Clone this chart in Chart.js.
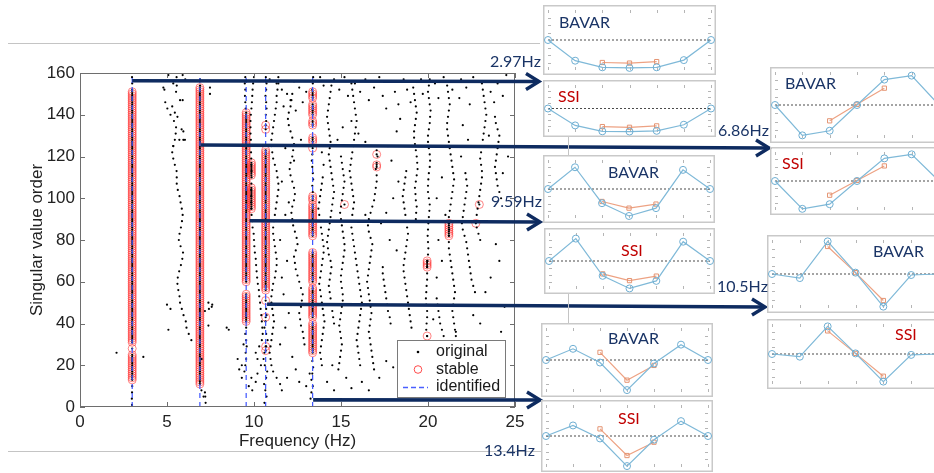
<!DOCTYPE html>
<html>
<head>
<meta charset="utf-8">
<script src="https://cdn.jsdelivr.net/npm/chart.js@4.4.0/dist/chart.umd.min.js"></script>
<style>
  html, body { margin: 0; padding: 0; background: #fff; }
  body { width: 934px; height: 473px; position: relative; overflow: hidden; }
  canvas { position: absolute; }
  .rule { position: absolute; background: #c4c4c4; }
  .tag { position: absolute; font: 16px Lato, "Noto Sans", sans-serif; line-height: 1; white-space: nowrap; transform: translateY(-50%); }
  .navy { color: #1a3466; }
  .red { color: #c00000; }
</style>
</head>
<body>
<canvas id="main" width="934" height="473" style="left:0;top:0"></canvas>

<div class="rule" style="left:8px;top:43px;width:532px;height:1px"></div>
<div class="rule" style="left:8px;top:451px;width:534px;height:1px"></div>
<div class="rule" style="left:568px;top:137px;width:1px;height:18px"></div>
<div class="rule" style="left:568px;top:294px;width:1px;height:29px"></div>

<canvas id="m297b" width="173" height="70" style="left:543px;top:5px"></canvas>
<canvas id="m297s" width="173" height="57" style="left:543px;top:80px"></canvas>
<canvas id="m959b" width="172" height="68" style="left:543px;top:155px"></canvas>
<canvas id="m959s" width="171" height="66" style="left:544px;top:228px"></canvas>
<canvas id="m134b" width="172" height="74" style="left:541px;top:323px"></canvas>
<canvas id="m134s" width="172" height="72" style="left:541px;top:400px"></canvas>
<canvas id="m686b" width="174" height="76" style="left:770px;top:67px"></canvas>
<canvas id="m686s" width="174" height="68" style="left:770px;top:147px"></canvas>
<canvas id="m105b" width="177" height="78" style="left:767px;top:235px"></canvas>
<canvas id="m105s" width="177" height="70" style="left:767px;top:319px"></canvas>

<div class="tag navy" style="left:490px;top:61px">2.97Hz</div>
<div class="tag navy" style="left:718px;top:130px">6.86Hz</div>
<div class="tag navy" style="left:491px;top:201px">9.59Hz</div>
<div class="tag navy" style="left:717px;top:286px">10.5Hz</div>
<div class="tag navy" style="left:484px;top:450px">13.4Hz</div>

<div class="tag navy" style="left:559px;top:22px">BAVAR</div>
<div class="tag red" style="left:558px;top:96px">SSI</div>
<div class="tag navy" style="left:608px;top:172px">BAVAR</div>
<div class="tag red" style="left:621px;top:250px">SSI</div>
<div class="tag navy" style="left:608px;top:338px">BAVAR</div>
<div class="tag red" style="left:618px;top:418px">SSI</div>
<div class="tag navy" style="left:785px;top:83px">BAVAR</div>
<div class="tag red" style="left:782px;top:163px">SSI</div>
<div class="tag navy" style="left:873px;top:251px">BAVAR</div>
<div class="tag red" style="left:895px;top:334px">SSI</div>

<script>
// stabilization diagram
const freqTicks = [0, 5, 10, 15, 20, 25];
const orderTicks = [0, 20, 40, 60, 80, 100, 120, 140, 160];
const identifiedHz = [3.0, 6.89, 9.55, 10.67, 13.37];

// stable poles: [frequency Hz, first order, last order]
const stableRuns = [
    [3.0, 13, 25], [3.0, 28, 28], [3.0, 31, 151],
    [6.89, 11, 153],
    [9.55, 41, 54], [9.55, 60, 141], [9.85, 95, 105], [9.85, 111, 117],
    [10.67, 27, 27], [10.67, 29, 29], [10.67, 43, 43], [10.67, 51, 51], [10.67, 56, 123], [10.67, 133, 133], [10.67, 135, 135],
    [13.37, 26, 40], [13.37, 43, 57], [13.37, 60, 74], [13.37, 82, 97], [13.37, 99, 101], [13.37, 124, 124],
    [13.37, 127, 129], [13.37, 135, 137], [13.37, 140, 145], [13.37, 148, 151],
    [15.2, 97, 97], [17.05, 115, 116], [17.05, 121, 121], [19.95, 34, 34], [19.95, 67, 70],
    [21.2, 82, 88], [22.75, 88, 88], [22.95, 97, 97]
];

// original poles along drifting traces: [first order, frequencies every ORDER_STEP orders]
const ORDER_STEP = 3;
const originalTrails = [
    [1, [2.99, 2.98, 2.99, 3.0]],
    [152, [3.0, 3.0, 2.99]],
    [2, [7.22, 7.1, 6.98]],
    [154, [6.9, 6.9]],
    [14, [9.3, 9.45, 9.5, 9.55, 9.52, 9.58, 9.55, 9.5, 9.55]],
    [143, [9.52, 9.5, 9.48, 9.5, 9.47, 9.5]],
    [2, [10.6, 10.72, 10.65, 10.58, 10.7, 10.76, 10.62, 10.55, 10.6, 10.7, 10.78, 10.7, 10.6, 10.66, 10.72, 10.7]],
    [137, [10.7, 10.68, 10.72, 10.7, 10.66, 10.7, 10.72, 10.68]],
    [4, [13.25, 13.3, 13.38, 13.3, 13.35, 13.4, 13.35]],
    [103, [13.38, 13.35, 13.4, 13.38, 13.35, 13.32, 13.35]],
    [152, [13.35, 13.38, 13.4]],
    [32, [6.40, 6.25, 6.12, 6.08, 5.95, 5.85, 5.75, 5.72, 5.65, 5.60, 5.62, 5.70, 5.80, 5.88, 5.92, 5.78, 5.68, 5.72, 5.80, 5.86,
          5.90, 5.85, 5.78, 5.72, 5.62, 5.56, 5.56, 5.55, 5.45, 5.36, 5.30, 5.36, 5.45, 5.50, 5.52, 5.40, 5.20, 5.02, 4.90]],
    [20, [10.4, 10.2, 10.1, 10.3, 10.45, 10.5, 10.48, 10.45, 10.42, 10.38, 10.35, 10.30, 10.28, 10.22, 10.18, 10.15, 10.12, 10.10,
          10.05, 10.02, 10.00, 9.98, 9.92, 9.90, 9.86, 9.85, 9.84, 9.84, 9.84, 9.85, 9.86, 9.86, 9.85, 9.84, 9.83, 9.82, 9.82,
          9.80, 9.80, 9.80, 9.82, 9.85, 9.88, 9.90, 9.92, 9.95, 10.0]],
    [8, [11.6, 11.5, 11.3, 11.1, 11.0, 10.95, 10.9, 10.95, 11.0, 11.05, 11.1, 11.15, 11.1, 11.05, 11.0, 11.0, 11.05, 11.1, 11.2,
         11.25, 11.3, 11.3, 11.25, 11.2, 11.15, 11.1, 11.1, 11.15, 11.2, 11.25, 11.3, 11.35, 11.4, 11.4, 11.35, 11.3, 11.2, 11.1,
         11.05, 11.0, 11.0, 11.05, 11.1, 11.15, 11.2, 11.25, 11.3, 11.3, 11.35, 11.4, 11.4]],
    [30, [12.9, 12.85, 12.8, 12.7, 12.65, 12.6, 12.7, 12.75, 12.8, 12.7, 12.6, 12.5, 12.4, 12.35, 12.3, 12.4, 12.5, 12.45, 12.35,
          12.25, 12.2, 12.15, 12.2, 12.3, 12.35, 12.3, 12.2, 12.1, 12.05, 12.1, 12.2, 12.25, 12.3, 12.2, 12.1, 12.0, 11.95, 12.0,
          12.1, 12.15, 12.2]],
    [20, [13.9, 13.85, 13.8, 13.85, 13.9, 13.95, 14.0, 14.05, 14.0, 13.95, 13.9, 13.85, 13.8, 13.75, 13.8, 13.85, 13.9, 13.95,
          14.0, 14.0, 13.95, 13.9, 13.85, 13.8, 13.75, 13.7, 13.75, 13.8, 13.85, 13.9, 13.95]],
    [40, [14.6, 14.55, 14.5, 14.45, 14.4, 14.35, 14.3, 14.35, 14.4, 14.45, 14.4, 14.3, 14.25, 14.2, 14.25, 14.3, 14.35, 14.4,
          14.45, 14.5, 14.55, 14.6, 14.55, 14.5, 14.45, 14.4, 14.35, 14.3, 14.35, 14.4, 14.35, 14.3, 14.25, 14.2, 14.25, 14.3,
          14.35, 14.4, 14.45]],
    [18, [14.85, 14.9, 14.95, 15.0, 15.05, 15.0, 14.95, 14.9, 14.95, 15.0, 15.05, 15.1, 15.1, 15.05, 15.0, 15.0, 15.05, 15.1,
          15.15, 15.2, 15.2, 15.15, 15.1, 15.05, 15.0, 14.95, 15.0, 15.05, 15.1, 15.15, 15.2, 15.15, 15.1, 15.05, 15.0]],
    [20, [16.1, 16.05, 16.0, 15.95, 15.9, 15.95, 16.0, 16.05, 16.1, 16.15, 16.2, 16.15, 16.1, 16.05, 16.0, 15.95, 15.9, 15.85,
          15.8, 15.75, 15.7, 15.65, 15.6, 15.6, 15.65, 15.7, 15.75, 15.7, 15.65, 15.6, 15.55, 15.5, 15.55, 15.6, 15.65, 15.7,
          15.75, 15.8, 15.85, 15.9, 15.85, 15.8, 15.75, 15.7, 15.65, 15.6]],
    [18, [16.9, 16.85, 16.8, 16.75, 16.7, 16.65, 16.6, 16.65, 16.7, 16.75, 16.7, 16.65, 16.6, 16.55, 16.5, 16.55, 16.6, 16.65,
          16.7, 16.75, 16.8, 16.7, 16.6, 16.55, 16.6, 16.7, 16.8, 16.9, 16.95, 17.0, 17.05, 17.05, 17.0, 17.05, 17.1, 17.05]],
    [40, [17.85, 17.8, 17.7, 17.65, 17.6, 17.55, 17.5, 17.45, 17.4, 17.4]],
    [38, [19.05, 19.0, 18.95, 18.9, 18.85, 18.8, 18.75, 18.7, 18.65, 18.6, 18.6, 18.65, 18.7, 18.75, 18.8, 18.85, 18.8, 18.75,
          18.7, 18.65, 18.6, 18.55, 18.6, 18.65, 18.7, 18.75]],
    [90, [19.3, 19.32, 19.35, 19.3, 19.28, 19.25, 19.3, 19.35, 19.4, 19.38, 19.35, 19.3, 19.25, 19.2, 19.2, 19.25, 19.3, 19.35,
          19.3, 19.25, 19.2, 19.15, 19.2]],
    [22, [20.1, 20.05, 20.0, 19.95, 19.95, 19.9, 19.92, 19.95, 19.95, 19.9, 19.88, 19.9, 19.92, 19.95, 19.95, 19.95, 19.97, 20.0,
          20.02, 20.0, 19.98, 20.0, 20.02, 20.05, 20.08, 20.1, 20.05, 20.0, 20.0, 20.02, 20.05, 20.1, 20.12, 20.1, 20.05, 20.0,
          20.0, 20.05, 20.1, 20.12, 20.15, 20.1, 20.05, 20.0, 20.05, 20.1]],
    [34, [20.9, 20.8, 20.7, 20.65, 20.6, 20.55, 20.5]],
    [28, [21.7, 21.65, 21.6, 21.55, 21.5, 21.45, 21.4, 21.45, 21.5, 21.55, 21.5, 21.45, 21.4, 21.35, 21.3, 21.25, 21.2, 21.2,
          21.2, 21.22, 21.2, 21.2, 21.25, 21.3, 21.35, 21.4, 21.45, 21.5, 21.45, 21.4, 21.35, 21.3, 21.25, 21.2, 21.15, 21.1,
          21.1, 21.15, 21.2, 21.25, 21.2, 21.15, 21.1]],
    [55, [22.7, 22.6, 22.5, 22.45, 22.4, 22.35, 22.3, 22.25, 22.2, 22.1, 22.0, 21.95, 22.0, 22.05, 22.1, 22.15, 22.2, 22.25,
          22.2, 22.15]],
    [80, [23.0, 22.9, 22.8, 22.75, 22.8, 22.85, 22.9, 22.95, 23.0, 23.05, 23.1, 23.1, 23.05, 23.0, 23.05, 23.1, 23.15, 23.2,
          23.25, 23.3, 23.35, 23.3, 23.25, 23.2, 23.15, 23.1]],
    [100, [24.2, 24.1, 24.0, 23.95, 23.9, 23.85, 23.9, 23.95, 24.0, 24.05, 24.1, 24.0, 23.9, 23.85]]
];

// isolated original poles: [frequency Hz, order]
const originalScatter = [
    [2.1, 26], [3.64, 24], [5.08, 37], [5.0, 49], [5.2, 47], [8.55, 37], [9.06, 23], [7.41, 47], [7.6, 49], [7.18, 46],
    [7.38, 50], [7.57, 48], [7.38, 39], [8.43, 38], [6.99, 23], [7.18, 7], [7.2, 5], [4.79, 153], [5.56, 154], [5.75, 147],
    [5.94, 132], [5.94, 128], [5.36, 125], [7.47, 153], [7.47, 150], [4.85, 152], [5.36, 155], [5.52, 151], [5.9, 147],
    [5.84, 133], [6.03, 128], [5.71, 128], [5.08, 159], [5.55, 158], [5.9, 159], [6.05, 157], [5.45, 141], [5.3, 144],
    [5.6, 139], [9.3, 20], [9.15, 18], [9.4, 30], [9.7, 10], [9.9, 8], [9.85, 14], [10.2, 16], [10.1, 12],
    [10.9, 157], [11.3, 155], [11.6, 152], [11.9, 150], [12.3, 156], [12.6, 153], [12.1, 147], [11.7, 144], [12.4, 142],
    [12.8, 146], [13.0, 151], [13.8, 158], [14.0, 154], [14.6, 157], [14.9, 152], [15.2, 158], [15.4, 149], [15.8, 155],
    [16.1, 151], [16.4, 157], [16.6, 147], [16.9, 153], [17.2, 158], [17.4, 149], [17.6, 143], [17.9, 156], [18.1, 151],
    [18.3, 145], [18.4, 138], [18.6, 157], [18.8, 152], [19.0, 146], [19.6, 157], [19.7, 150], [20.4, 155], [20.6, 148],
    [20.9, 158], [21.4, 152], [21.8, 148], [21.9, 157], [22.2, 153], [22.4, 145], [22.6, 158], [23.6, 151], [23.8, 146],
    [24.0, 155], [24.3, 149], [24.5, 159], [15.6, 137], [16.0, 131], [15.1, 134], [14.8, 128], [16.4, 127], [17.7, 125],
    [18.2, 132], [17.9, 118], [18.3, 108], [18.0, 100], [17.6, 93], [17.3, 88], [16.4, 92], [17.8, 80], [18.2, 75],
    [14.0, 116], [13.9, 122], [12.7, 128], [11.8, 124], [12.3, 118], [11.6, 108], [12.0, 98], [11.8, 92], [11.5, 80],
    [11.9, 70], [11.6, 62], [11.7, 54], [12.0, 45], [11.8, 38], [11.5, 30], [12.2, 24], [12.4, 18], [11.9, 14], [12.6, 12],
    [13.0, 10], [13.2, 16], [14.2, 12], [14.5, 20], [14.6, 8], [15.3, 14], [15.6, 9], [16.2, 12], [16.6, 8], [17.2, 14],
    [17.6, 22], [18.0, 19], [18.4, 28], [18.9, 24], [19.4, 30], [19.0, 16], [20.3, 42], [20.8, 26], [21.2, 22], [21.6, 36],
    [22.3, 30], [22.6, 44], [23.0, 40], [23.3, 55], [23.6, 62], [24.1, 70], [23.9, 78], [24.4, 48], [24.2, 36], [22.9, 20],
    [20.5, 62], [20.8, 70], [20.6, 80], [21.0, 92], [20.5, 100], [20.8, 110], [21.9, 120], [22.3, 128], [22.0, 135],
    [23.5, 130], [24.6, 120], [24.3, 112]
];

// mode shapes, 7 measurement points; identified reference at points 2..4
const modeIndex = [0, 1, 2, 3, 4, 5, 6];
const refIndex = [2, 3, 4];
const bavar297 = [0, -0.69, -0.91, -0.93, -0.91, -0.67, 0];
const bavar297Ref = [-0.75, -0.77, -0.72];
const ssi297 = [0, -0.72, -0.97, -0.98, -0.95, -0.69, 0];
const ssi297Ref = [-0.77, -0.80, -0.74];
const bavar959 = [0, 0.75, -0.49, -0.93, -0.66, 0.66, 0];
const bavar959Ref = [-0.43, -0.66, -0.52];
const ssi959 = [0, 0.80, -0.53, -0.98, -0.71, 0.69, 0];
const ssi959Ref = [-0.46, -0.70, -0.54];
const bavar134 = [0, 0.35, -0.08, -0.94, -0.11, 0.48, 0];
const bavar134Ref = [0.24, -0.63, -0.17];
const ssi134 = [0, 0.34, -0.08, -0.97, -0.12, 0.48, 0];
const ssi134Ref = [0.23, -0.63, -0.20];
const bavar686 = [0, -0.92, -0.78, 0, 0.77, 0.89, 0];
const bavar686Ref = [-0.48, 0.02, 0.51];
const ssi686 = [0, -0.96, -0.80, 0, 0.78, 0.92, 0];
const ssi686Ref = [-0.49, 0.02, 0.52];
const bavar105 = [0, -0.12, 0.96, 0.04, -0.96, -0.03, 0];
const bavar105Ref = [0.81, 0.04, -0.78];
const ssi105 = [0, -0.09, 0.92, 0.02, -0.92, -0.03, 0];
const ssi105Ref = [0.77, 0.02, -0.74];

// arrows from the diagram to the mode shapes (start in data units, end in page px)
const arrows = [
    { hz: 3.0, order: 156.3, toX: 539, toY: 81.5 },
    { hz: 6.95, order: 125.5, toX: 769, toY: 148 },
    { hz: 9.75, order: 89.2, toX: 540, toY: 222 },
    { hz: 10.75, order: 49.2, toX: 765, toY: 307 },
    { hz: 13.4, order: 3.4, toX: 540, toY: 400 }
];

const originalPoints = [];
originalTrails.forEach(([from, freqs]) => {
    freqs.forEach((f, i) => originalPoints.push({ x: f, y: from + i * ORDER_STEP }));
});
originalScatter.forEach(([f, o]) => originalPoints.push({ x: f, y: o }));

const stablePoints = [];
stableRuns.forEach(([f, lo, hi]) => {
    for (let o = lo; o <= hi; o++) stablePoints.push({ x: f, y: o });
});
stablePoints.forEach(p => originalPoints.push({ x: p.x, y: p.y }));

const axisFont = { family: '"Liberation Sans", Arial, sans-serif', size: 17 };
const navy = '#0e2b60';

const mainDecor = {
    id: 'mainDecor',
    afterDraw(chart) {
        const { ctx, chartArea: a, scales: { x, y } } = chart;
        ctx.save();

        // box with inward ticks
        ctx.strokeStyle = '#6e6e6e';
        ctx.lineWidth = 1;
        ctx.strokeRect(a.left + 0.5, a.top + 0.5, a.right - a.left - 1, a.bottom - a.top - 1);
        ctx.beginPath();
        freqTicks.forEach(v => {
            const px = Math.round(x.getPixelForValue(v)) + 0.5;
            ctx.moveTo(px, a.bottom); ctx.lineTo(px, a.bottom - 5);
            ctx.moveTo(px, a.top); ctx.lineTo(px, a.top + 5);
        });
        orderTicks.forEach(v => {
            const py = Math.round(y.getPixelForValue(v)) + 0.5;
            ctx.moveTo(a.left, py); ctx.lineTo(a.left + 5, py);
            ctx.moveTo(a.right, py); ctx.lineTo(a.right - 5, py);
        });
        ctx.stroke();

        // legend
        const lw = 108, lh = 57;
        const lx = a.right - 10 - lw, ly = a.bottom - 10 - lh;
        ctx.fillStyle = '#fff';
        ctx.fillRect(lx, ly, lw, lh);
        ctx.strokeStyle = '#7a7a7a';
        ctx.strokeRect(lx + 0.5, ly + 0.5, lw, lh);
        ctx.font = '16px "Liberation Sans", Arial, sans-serif';
        ctx.fillStyle = '#1a1a1a';
        ctx.textBaseline = 'middle';
        const rows = ['original', 'stable', 'identified'];
        rows.forEach((t, i) => ctx.fillText(t, lx + 39, ly + 12 + i * 17.5));
        ctx.fillStyle = '#000';
        ctx.beginPath(); ctx.arc(lx + 21, ly + 12, 1.3, 0, Math.PI * 2); ctx.fill();
        ctx.strokeStyle = 'rgba(255,45,45,0.85)';
        ctx.beginPath(); ctx.arc(lx + 21, ly + 29.5, 3.8, 0, Math.PI * 2); ctx.stroke();
        ctx.strokeStyle = '#4a5fff';
        ctx.lineWidth = 1.3;
        ctx.setLineDash([5, 3]);
        ctx.beginPath(); ctx.moveTo(lx + 6, ly + 47.5); ctx.lineTo(lx + 31, ly + 47.5); ctx.stroke();
        ctx.setLineDash([]);

        // arrows
        ctx.strokeStyle = navy;
        ctx.lineCap = 'butt';
        arrows.forEach(ar => {
            const sx = x.getPixelForValue(ar.hz), sy = y.getPixelForValue(ar.order);
            ctx.lineWidth = 3.6;
            ctx.beginPath(); ctx.moveTo(sx, sy); ctx.lineTo(ar.toX - 2, ar.toY); ctx.stroke();
            ctx.lineWidth = 3.4;
            ctx.lineJoin = 'miter';
            ctx.beginPath();
            ctx.moveTo(ar.toX - 13, ar.toY - 8);
            ctx.lineTo(ar.toX, ar.toY);
            ctx.lineTo(ar.toX - 13, ar.toY + 8);
            ctx.stroke();
        });
        ctx.restore();
    }
};

new Chart(document.getElementById('main'), {
    type: 'scatter',
    data: {
        datasets: [
            ...identifiedHz.map(f => ({
                label: 'identified',
                data: [{ x: f, y: 0 }, { x: f, y: 160 }],
                showLine: true,
                borderColor: '#3c54ff',
                borderWidth: 1.2,
                borderDash: [5, 4],
                pointRadius: 0
            })),
            {
                label: 'original',
                data: originalPoints,
                pointRadius: 1.1,
                backgroundColor: '#000',
                borderWidth: 0
            },
            {
                label: 'stable',
                data: stablePoints,
                pointRadius: 4,
                borderColor: 'rgba(255,50,50,0.6)',
                backgroundColor: 'rgba(0,0,0,0)',
                borderWidth: 1
            }
        ]
    },
    options: {
        responsive: false,
        animation: false,
        events: [],
        layout: { padding: { left: 0, top: 73, right: 419, bottom: 0 } },
        plugins: { legend: { display: false }, tooltip: { enabled: false } },
        scales: {
            x: {
                type: 'linear', min: 0, max: 25,
                afterFit: s => { s.height = 66; },
                afterBuildTicks: s => { s.ticks = freqTicks.map(v => ({ value: v })); },
                grid: { display: false, drawTicks: false },
                border: { display: false },
                ticks: { color: '#222', font: axisFont, padding: 5, maxRotation: 0 },
                title: { display: true, text: 'Frequency (Hz)', color: '#222', font: axisFont, padding: { top: 0, bottom: 21 } }
            },
            y: {
                type: 'linear', min: 0, max: 160,
                afterFit: s => { s.width = 80; },
                afterBuildTicks: s => { s.ticks = orderTicks.map(v => ({ value: v })); },
                grid: { display: false, drawTicks: false },
                border: { display: false },
                ticks: { color: '#222', font: axisFont, padding: 5, autoSkip: false },
                title: { display: true, text: 'Singular value order', color: '#222', font: axisFont, padding: { top: 27, bottom: 0 } }
            }
        }
    },
    plugins: [mainDecor]
});

const miniFrame = {
    id: 'miniFrame',
    beforeDatasetsDraw(chart) {
        const { ctx, chartArea: a, scales: { x, y } } = chart;
        ctx.save();
        ctx.strokeStyle = '#c9c9c9';
        ctx.lineWidth = 1.5;
        ctx.strokeRect(0.75, 0.75, chart.width - 1.5, chart.height - 1.5);
        ctx.strokeStyle = '#b5b5b5';
        ctx.lineWidth = 1;
        ctx.beginPath();
        modeIndex.forEach(v => {
            const px = Math.round(x.getPixelForValue(v)) + 0.5;
            ctx.moveTo(px, a.top); ctx.lineTo(px, a.top + 3);
            ctx.moveTo(px, a.bottom); ctx.lineTo(px, a.bottom - 3);
        });
        [-0.75, -0.5, -0.25, 0, 0.25, 0.5, 0.75].forEach(v => {
            const py = Math.round(y.getPixelForValue(v)) + 0.5;
            ctx.moveTo(a.left, py); ctx.lineTo(a.left + 3, py);
            ctx.moveTo(a.right, py); ctx.lineTo(a.right - 3, py);
        });
        ctx.stroke();
        ctx.restore();
    }
};

function modeChart(id, shape, ref) {
    new Chart(document.getElementById(id), {
        type: 'scatter',
        data: {
            datasets: [
                {
                    data: shape.map((v, i) => ({ x: modeIndex[i], y: v })),
                    showLine: true,
                    borderColor: '#7fb9d8',
                    borderWidth: 1.2,
                    pointRadius: 3.5,
                    pointBorderColor: '#6eaed2',
                    pointBackgroundColor: 'rgba(0,0,0,0)',
                    pointBorderWidth: 1,
                    clip: 8
                },
                {
                    data: ref.map((v, i) => ({ x: refIndex[i], y: v })),
                    showLine: true,
                    borderColor: '#eda283',
                    borderWidth: 1.2,
                    pointStyle: 'rect',
                    pointRadius: 3,
                    pointBorderColor: '#e49472',
                    pointBackgroundColor: 'rgba(0,0,0,0)',
                    pointBorderWidth: 1,
                    clip: 8
                },
                {
                    data: [{ x: 0, y: 0 }, { x: 6, y: 0 }],
                    showLine: true,
                    borderColor: '#4a4a4a',
                    borderWidth: 1,
                    borderDash: [2, 2],
                    pointRadius: 0
                }
            ]
        },
        options: {
            responsive: false,
            animation: false,
            events: [],
            layout: { padding: { left: 2, right: 3, top: 2, bottom: 2 } },
            plugins: { legend: { display: false }, tooltip: { enabled: false } },
            scales: {
                x: { type: 'linear', display: false, min: 0, max: 6 },
                y: { type: 'linear', display: false, min: -1, max: 1 }
            }
        },
        plugins: [miniFrame]
    });
}

modeChart('m297b', bavar297, bavar297Ref);
modeChart('m297s', ssi297, ssi297Ref);
modeChart('m959b', bavar959, bavar959Ref);
modeChart('m959s', ssi959, ssi959Ref);
modeChart('m134b', bavar134, bavar134Ref);
modeChart('m134s', ssi134, ssi134Ref);
modeChart('m686b', bavar686, bavar686Ref);
modeChart('m686s', ssi686, ssi686Ref);
modeChart('m105b', bavar105, bavar105Ref);
modeChart('m105s', ssi105, ssi105Ref);
</script>
</body>
</html>
